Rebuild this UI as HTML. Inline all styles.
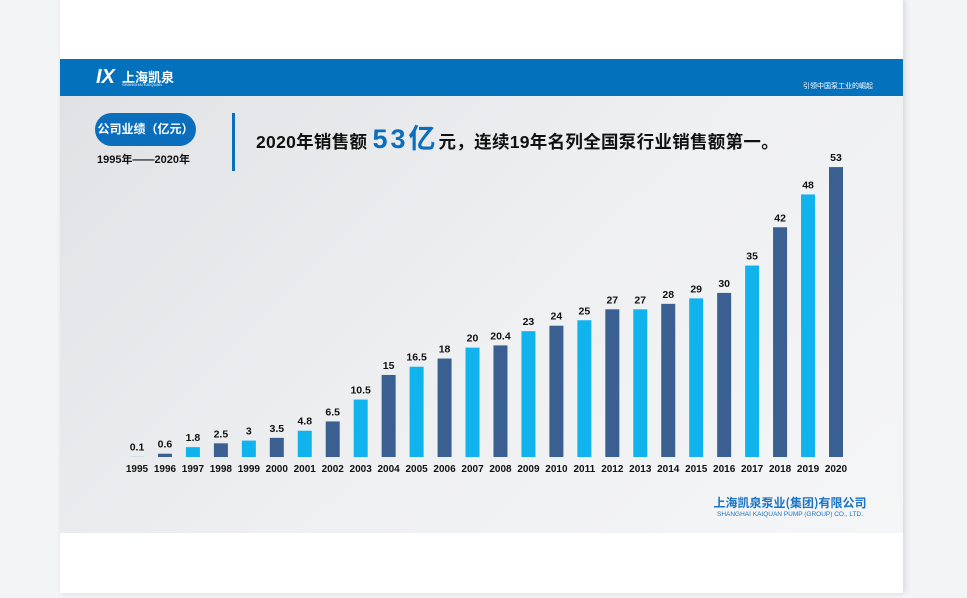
<!DOCTYPE html>
<html><head><meta charset="utf-8"><style>
body{margin:0;width:967px;height:598px;background:#f3f4f6;position:relative;overflow:hidden;font-family:"Liberation Sans","Noto Sans CJK SC",sans-serif}
.page{position:absolute;left:60px;top:0;width:843px;height:593px;background:#fff;box-shadow:2px 0 6px rgba(0,0,0,.12)}
.band{position:absolute;left:60px;top:59px;width:843px;height:37px;background:#0471bc}
.gray{position:absolute;left:60px;top:96px;width:843px;height:437px;background:linear-gradient(135deg,#e0e2e5 0%,#eeeff1 50%,#f5f6f7 100%)}
.t{position:absolute;white-space:nowrap}
</style></head><body>
<div class="page"></div><div class="band"></div><div class="gray"></div>
<div class="t" style="left:96px;top:66px;color:#fff;font-size:20px;font-weight:bold;font-style:italic;line-height:22px">IX</div>
<div class="t" style="left:122px;top:67px;color:#fff;font-size:13px;font-weight:bold">上海凯泉</div>
<div class="t" style="left:122px;top:82px;color:#fff;font-size:4px">SHANGHAI KAIQUAN</div>
<div class="t" style="left:803px;top:81px;color:#fff;font-size:7px">引领中国泵工业的崛起</div>
<div class="t" style="left:95px;top:113px;width:101px;height:33px;border-radius:17px;background:#0a6ebd;color:#fff;font-size:12px;font-weight:bold;text-align:center;line-height:33px">公司业绩（亿元）</div>
<div class="t" style="left:97px;top:151px;font-size:11px;font-weight:bold;color:#111">1995年——2020年</div>
<div style="position:absolute;left:232px;top:113px;width:3px;height:58px;background:#0a6ebd"></div>
<div class="t" style="left:256px;top:124px;font-size:17.5px;font-weight:bold;color:#111;line-height:30px;letter-spacing:0.3px">2020年销售额 <span style="color:#0a6ebd;font-size:27px;letter-spacing:3px">53亿</span>元，连续19年名列全国泵行业销售额第一。</div>
<svg style="position:absolute;left:0;top:0" width="967" height="598">
<g font-family="Liberation Sans,sans-serif" font-weight="bold" font-size="10.5" text-anchor="middle" fill="#111" id="g"></g>
<text x="790" y="507" font-size="12" fill="#1a73c4" text-anchor="middle" font-family="Noto Sans CJK SC,sans-serif" font-weight="bold">上海凯泉泵业(集团)有限公司</text>
<text x="790" y="516" font-size="6.5" fill="#1a73c4" text-anchor="middle" font-family="Liberation Sans,sans-serif">SHANGHAI KAIQUAN PUMP (GROUP) CO., LTD.</text>
</svg>
<script>
var v=[0.1,0.6,1.8,2.5,3,3.5,4.8,6.5,10.5,15,16.5,18,20,20.4,23,24,25,27,27,28,29,30,35,42,48,53];
var lab=["0.1","0.6","1.8","2.5","3","3.5","4.8","6.5","10.5","15","16.5","18","20","20.4","23","24","25","27","27","28","29","30","35","42","48","53"];
var g=document.getElementById('g'),s='';
for(var i=0;i<26;i++){var x=137+i*27.96,h=v[i]*5.47,y=457-h;
var c=(i%2==0)?'#10b3ec':'#3a5f91';if(i==0)c='#b9d8ea';
s+='<rect x="'+(x-7)+'" y="'+y+'" width="14" height="'+h+'" fill="'+c+'"/>';
s+='<text x="'+x+'" y="'+(y-6)+'">'+lab[i]+'</text>';
s+='<text x="'+x+'" y="472" font-size="10">'+(1995+i)+'</text>';}
g.innerHTML=s;
</script>
</body></html>
